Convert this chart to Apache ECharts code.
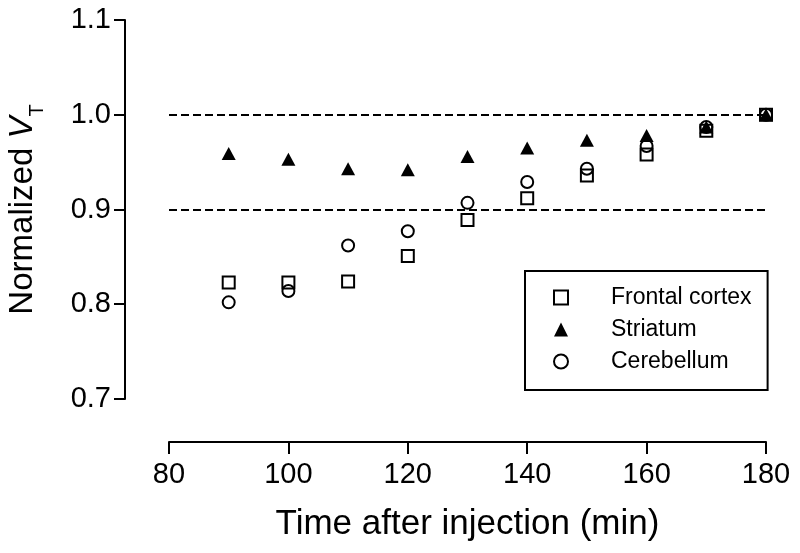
<!DOCTYPE html>
<html>
<head>
<meta charset="utf-8">
<script src="https://cdn.jsdelivr.net/npm/echarts@6/dist/echarts.min.js"></script>
<style>
  html, body { margin: 0; padding: 0; background: #fff; }
  #chart { width: 800px; height: 553px; }
</style>
</head>
<body>
<div id="chart"></div>
<script>
// time after injection (min)
var times = [90, 100, 110, 120, 130, 140, 150, 160, 170, 180]
// normalized VT per region
var frontalCortex = [0.823, 0.823, 0.824, 0.851, 0.889, 0.912, 0.936, 0.958, 0.983, 1.0]
var striatum = [0.959, 0.953, 0.943, 0.942, 0.956, 0.965, 0.973, 0.978, 0.987, 1.0]
var cerebellum = [0.802, 0.814, 0.862, 0.877, 0.907, 0.929, 0.943, 0.967, 0.987, 1.0]
// dashed reference levels
var refLevels = [1.0, 0.9]

function pairs (ys) {
  var out = []
  for (var i = 0; i < times.length; i++) {
    out.push([times[i], ys[i]])
  }
  return out
}

var font = 'Liberation Sans, Arial, sans-serif'
var hollow = {
  color: 'rgba(0,0,0,0)',
  borderColor: '#000',
  borderWidth: 2,
  opacity: 1
}

var option = {
  backgroundColor: '#fff',
  animation: false,
  grid: {
    left: 169,
    right: 34,
    top: 20,
    bottom: 154,
    outerBoundsMode: 'none'
  },
  legend: {
    orient: 'vertical',
    left: 525,
    top: 271,
    padding: [15, 16, 17, 28],
    itemWidth: 14,
    itemHeight: 14,
    itemGap: 9,
    borderColor: '#000',
    borderWidth: 2,
    textStyle: {
      fontFamily: font,
      fontSize: 23,
      color: '#000',
      padding: [0, 0, 0, 38]
    },
    data: ['Frontal cortex', 'Striatum', 'Cerebellum']
  },
  xAxis: {
    type: 'value',
    min: 80,
    max: 180,
    interval: 20,
    offset: 43,
    name: 'Time after injection (min)',
    nameLocation: 'middle',
    nameGap: 65,
    nameTextStyle: {
      fontFamily: font,
      fontSize: 35,
      color: '#000'
    },
    axisLine: { lineStyle: { color: '#000', width: 2 } },
    axisTick: { length: 12, lineStyle: { color: '#000', width: 2 } },
    axisLabel: {
      fontFamily: font,
      fontSize: 29,
      color: '#000',
      margin: 18
    },
    splitLine: { show: false }
  },
  yAxis: {
    type: 'value',
    min: 0.7,
    max: 1.1,
    interval: 0.1,
    offset: 44,
    name: '{a|Normalized }{v|V}{t|T}',
    nameLocation: 'middle',
    nameGap: 81,
    nameTextStyle: {
      fontFamily: font,
      fontSize: 33,
      color: '#000',
      rich: {
        a: { fontFamily: font, fontSize: 33, lineHeight: 42, color: '#000' },
        v: { fontFamily: font, fontSize: 33, lineHeight: 42, fontStyle: 'italic', color: '#000' },
        t: { fontFamily: font, fontSize: 20, lineHeight: 20, verticalAlign: 'top', padding: [25, 0, 0, 0], color: '#000' }
      }
    },
    axisLine: { lineStyle: { color: '#000', width: 2 } },
    axisTick: { length: 11, lineStyle: { color: '#000', width: 2 } },
    axisLabel: {
      fontFamily: font,
      fontSize: 29,
      color: '#000',
      margin: 14,
      formatter: function (v) { return v.toFixed(1) }
    },
    splitLine: { show: false }
  },
  series: [{
    name: 'Frontal cortex',
    type: 'scatter',
    symbol: 'rect',
    symbolSize: 12,
    itemStyle: hollow,
    data: pairs(frontalCortex),
    markLine: {
      silent: true,
      symbol: 'none',
      label: { show: false },
      lineStyle: { color: '#000', width: 2, type: [8, 4] },
      data: refLevels.map(function (v) { return { yAxis: v } })
    }
  }, {
    name: 'Striatum',
    type: 'scatter',
    symbol: 'triangle',
    symbolSize: [14, 13],
    itemStyle: { color: '#000', opacity: 1 },
    data: pairs(striatum)
  }, {
    name: 'Cerebellum',
    type: 'scatter',
    symbol: 'circle',
    symbolSize: 12,
    itemStyle: hollow,
    data: pairs(cerebellum)
  }]
}

var chart = echarts.init(document.getElementById('chart'), null, { renderer: 'canvas' })
chart.setOption(option)
</script>
</body>
</html>
